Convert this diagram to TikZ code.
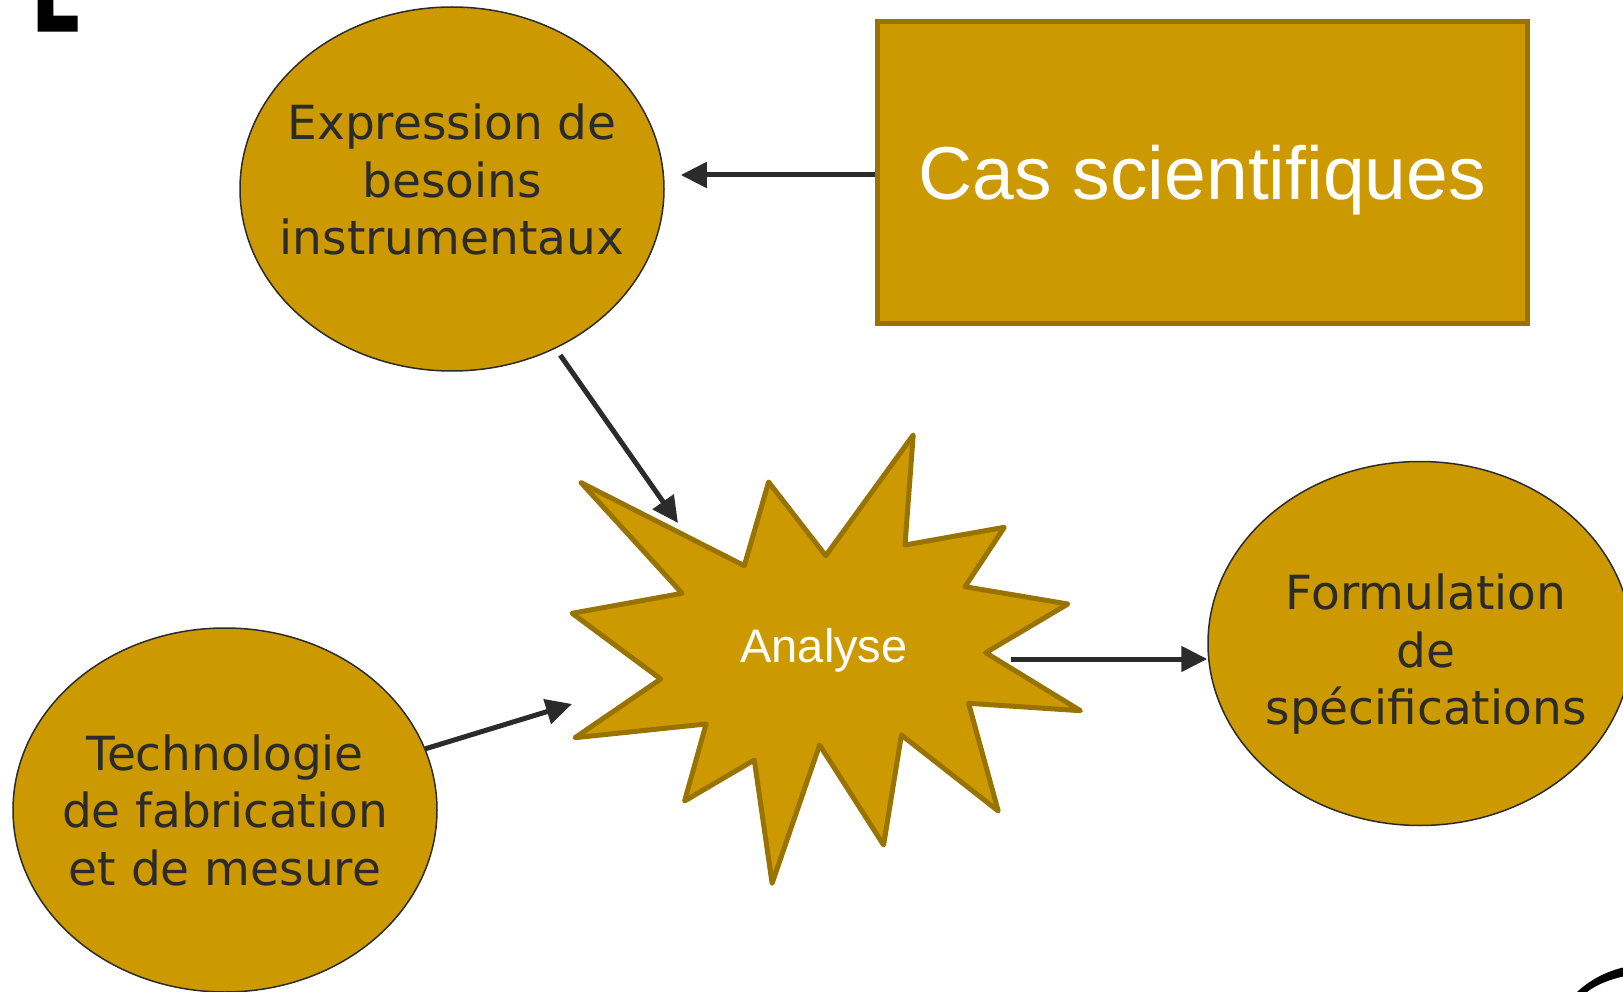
\documentclass[tikz,border=0pt]{standalone}
\usepackage{fontspec}
\setmainfont{DejaVu Sans}
\newfontfamily\comicfont{Liberation Sans}
\usepackage{tikz}
\usetikzlibrary{shapes.geometric, arrows.meta, positioning, calc}
\definecolor{mygold}{RGB}{204,153,0}
\definecolor{mydarkgold}{RGB}{153,115,0}
\definecolor{mydark}{RGB}{43,43,43}
\tikzset{
  bubble/.style={ellipse, draw=mydark, fill=mygold, line width=1.5pt,
    minimum width=424pt, minimum height=364pt, inner sep=0pt},
  bubtext/.style={align=center, inner sep=0pt, text=mydark,
    font=\fontsize{47}{57.5}\selectfont},
  casbox/.style={rectangle, draw=mydarkgold, fill=mygold, line width=5pt,
    minimum width=650.5pt, minimum height=302.5pt, inner sep=0pt,
    text=white, font=\comicfont\fontsize{75}{90}\selectfont,
    text height=54pt, text depth=0pt},
  burst/.style={draw=mydarkgold, fill=mygold, line width=5pt, line join=round},
  bursttext/.style={anchor=base, inner sep=0pt, text=white,
    font=\comicfont\fontsize{47}{56}\selectfont},
  arrow/.style={-{Triangle[length=26pt, width=25pt]}, line width=5pt, draw=mydark, fill=mydark}
}
\begin{document}
\begin{tikzpicture}[x=1pt, y=-1pt]
  \useasboundingbox (0,0) rectangle (1623,992);

  % Leftover glyphs at the edges
  \fill[black] (37.7,0) -- (53.3,0) -- (53.3,15.7) -- (77.7,15.7) -- (77.7,31.7) -- (37.7,31.7) -- cycle;
  \fill[black] (1577,992) .. controls (1590,980) and (1605,972) .. (1623,967.5)
    -- (1623,976.5) .. controls (1608,980) and (1596,985) .. (1587,992) -- cycle;

  % Bubbles
  \node[bubble] (besoins) at (452,189) {};
  \node[bubtext] (besoinsTxt) at (452,179.7) {Expression de\\besoins\\instrumentaux};
  \node[bubble] (techno) at (225,810) {};
  \node[bubtext] (technoTxt) at (225,810.2) {Technologie\\de fabrication\\et de mesure};
  \node[bubble] (formul) at (1420,643.5) {};
  \node[bubtext] (formulTxt) at (1426,654.5) {Formulation\\de\\spécifications};

  % Box
  \node[casbox] (cas) at (1202.3,172.3) {Cas scientifiques};

  % Burst
  \draw[burst] (581.1,482.7) -- (744.3,565.7) -- (768.6,482) -- (825.7,555.7)
    -- (913.2,435) -- (905,545) -- (1004.3,527.3) -- (965,586.7)
    -- (1067.9,604) -- (985.7,652.7) -- (1080.4,710.7) -- (968.6,703.3)
    -- (998.2,811) -- (901.4,735) -- (883.6,845) -- (819.6,745)
    -- (772.1,883.3) -- (754.3,760) -- (684.6,801) -- (706.1,724)
    -- (575,737.7) -- (660.7,679) -- (572.1,613.3) -- (682.1,593.3) -- cycle;
  \node[bursttext] (analyse) at (824,662) {Analyse};
  \coordinate (anaIn1) at (678,523);
  \coordinate (anaIn2) at (572,704);
  \coordinate (anaOut) at (1011,659);

  % Arrows
  \draw[arrow, shorten >=16pt] ([yshift=-2.7pt]cas.west) -- ([yshift=-2.7pt]cas.west -| besoins.east);
  \draw[arrow, shorten <=8pt] (besoins.-57) -- (anaIn1);
  \draw[arrow] (techno) -- (anaIn2);
  \draw[arrow] (anaOut) -- (anaOut -| formul.west);
\end{tikzpicture}
\end{document}
